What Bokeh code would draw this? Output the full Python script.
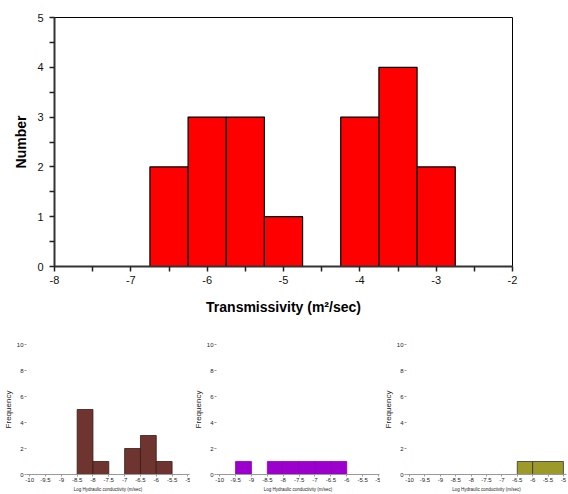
from bokeh.plotting import figure
from bokeh.layouts import column, row
from bokeh.models import FixedTicker
from bokeh.embed import file_html
from bokeh.resources import INLINE

# ---- main histogram data ----
main_centers = [-7.0, -6.5, -6.0, -5.5, -5.0, -4.5, -4.0, -3.5, -3.0]
main_counts = [0, 2, 3, 3, 1, 0, 3, 4, 2]
main_bin_width = 0.5
main_xticks = [-8, -7, -6, -5, -4, -3, -2]
main_xlabels = ["-8", "-7", "-6", "-5", "-4", "-3", "-2"]
main_yticks = [0, 1, 2, 3, 4, 5]

# ---- small panels data ----
p1_left = [-8.5, -8.0, -7.0, -6.5, -6.0]
p1_right = [-8.0, -7.5, -6.5, -6.0, -5.5]
p1_counts = [5, 1, 2, 3, 1]

p2_left = [-9.5, -8.5, -8.0, -7.5, -7.0, -6.5]
p2_right = [-9.0, -8.0, -7.5, -7.0, -6.5, -6.0]
p2_counts = [1, 1, 1, 1, 1, 1]

p3_left = [-6.5, -6.0]
p3_right = [-6.0, -5.0]
p3_counts = [1, 1]

small_xticks = [-10, -9.5, -9, -8.5, -8, -7.5, -7, -6.5, -6, -5.5, -5]
small_xlabels = ["-10", "-9.5", "-9", "-8.5", "-8", "-7.5", "-7", "-6.5", "-6", "-5.5", "-5"]
small_yticks = [0, 2, 4, 6, 8, 10]

FONT = "Liberation Sans"

# ---- main figure ----
p = figure(width=568, height=320, x_range=(-8, -2), y_range=(0, 5),
           output_backend="svg", toolbar_location=None,
           min_border_left=54, min_border_right=56, min_border_top=17,
           min_border_bottom=54)
left = [c - main_bin_width / 2 for c in main_centers]
right = [c + main_bin_width / 2 for c in main_centers]
p.quad(left=left, right=right, bottom=0, top=main_counts,
       fill_color="#FF0000", line_color="black", line_width=1.2)

p.xaxis.ticker = FixedTicker(ticks=main_xticks,
                             minor_ticks=[t + 0.5 for t in main_xticks[:-1]])
p.xaxis.major_label_overrides = {t: s for t, s in zip(main_xticks, main_xlabels)}
p.yaxis.ticker = FixedTicker(ticks=main_yticks,
                             minor_ticks=[t + 0.5 for t in main_yticks[:-1]])
for ax in (p.xaxis[0], p.yaxis[0]):
    ax.axis_line_color = "#333333"
    ax.axis_line_width = 2
    ax.major_tick_in = 0
    ax.minor_tick_in = 0
    ax.major_tick_out = 5
    ax.minor_tick_out = 5
    ax.major_tick_line_color = "#222222"
    ax.minor_tick_line_color = "#222222"
    ax.major_tick_line_width = 1.5
    ax.minor_tick_line_width = 1.5
    ax.major_label_text_font = FONT
    ax.major_label_text_font_size = "11px"
    ax.major_label_text_color = "#111111"
    ax.axis_label_text_font = FONT
    ax.axis_label_text_font_size = "14px"
    ax.axis_label_text_font_style = "bold"
    ax.axis_label_text_color = "black"
p.xaxis.axis_label = "Transmissivity (m\u00b2/sec)"
p.yaxis.axis_label = "Number"
p.xaxis.major_label_standoff = 4
p.xaxis.axis_label_standoff = 12
p.yaxis.major_label_standoff = 6
p.yaxis.axis_label_standoff = 5
p.xgrid.grid_line_color = None
p.ygrid.grid_line_color = None
p.outline_line_color = "black"
p.outline_line_width = 1


def panel(width, xr, bl, br, lefts, rights, counts, fill, edge):
    f = figure(width=width, height=174, x_range=xr, y_range=(0, 10),
               output_backend="svg", toolbar_location=None,
               min_border_left=bl, min_border_right=br, min_border_top=24,
               min_border_bottom=19)
    f.quad(left=lefts, right=rights, bottom=0, top=counts,
           fill_color=fill, line_color=edge, line_width=0.8)
    f.xaxis.ticker = FixedTicker(ticks=small_xticks, minor_ticks=[])
    f.xaxis.major_label_overrides = {t: s for t, s in zip(small_xticks, small_xlabels)}
    f.yaxis.ticker = FixedTicker(ticks=small_yticks, minor_ticks=[])
    for ax in (f.xaxis[0], f.yaxis[0]):
        ax.major_tick_in = 0
        ax.major_tick_out = 2
        ax.major_tick_line_color = "#999999"
        ax.major_label_text_font = FONT
        ax.major_label_text_font_size = "6px"
        ax.major_label_text_color = "#222222"
        ax.major_label_standoff = 1
        ax.axis_label_text_font = FONT
        ax.axis_label_text_font_style = "normal"
        ax.axis_label_text_color = "#222222"
    f.xaxis.axis_line_color = "#999999"
    f.yaxis.axis_line_color = None
    f.xaxis.axis_label = "Log Hydraulic conductivity (m/sec)"
    f.xaxis.axis_label_text_font_size = "4.5px"
    f.xaxis.axis_label_standoff = 2
    f.yaxis.axis_label = "Frequency"
    f.yaxis.axis_label_text_font_size = "8px"
    f.yaxis.axis_label_standoff = 1
    f.xgrid.grid_line_color = None
    f.ygrid.grid_line_color = None
    f.outline_line_color = None
    return f


f1 = panel(190, (-10.1, -4.95), 26, 1, p1_left, p1_right, p1_counts, "#6E3530", "#3a1a18")
f2 = panel(190, (-10.1, -4.97), 19, 1, p2_left, p2_right, p2_counts, "#9C00CC", "#8a00b8")
f3 = panel(188, (-10.1, -4.9), 16, 2, p3_left, p3_right, p3_counts, "#9E9A2A", "#333333")

layout = column(p, row(f1, f2, f3))
open("out.html", "w").write(file_html(layout, INLINE))
